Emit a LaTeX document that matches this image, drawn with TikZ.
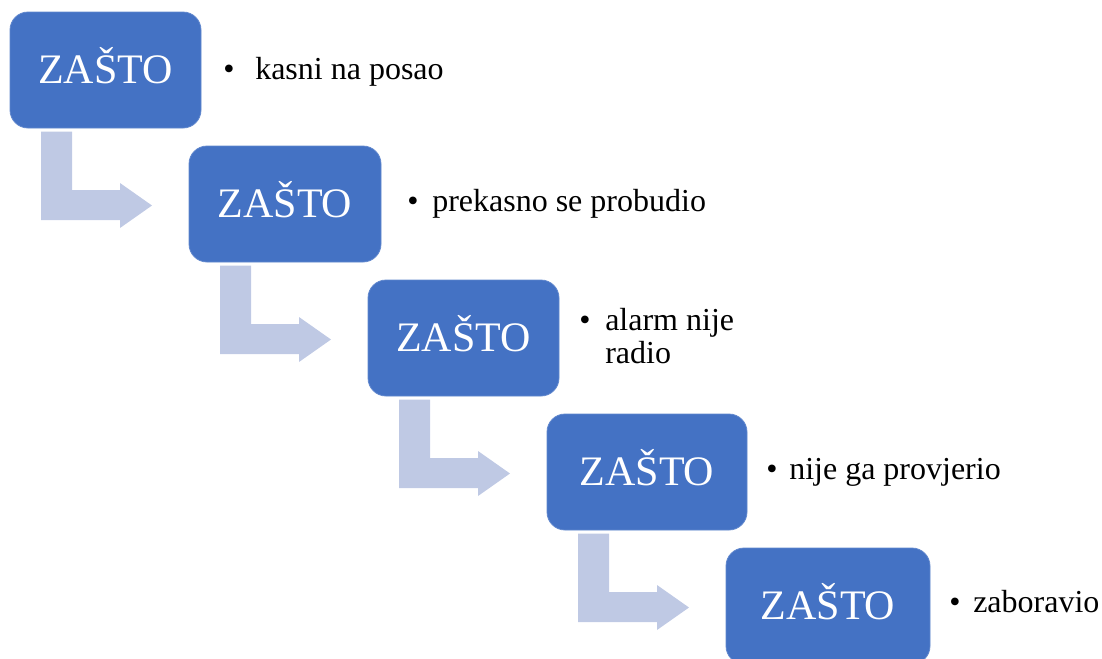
\documentclass[tikz,border=0pt]{standalone}
\usepackage{fontspec}
\setmainfont{Liberation Serif}
\usetikzlibrary{calc}
\definecolor{boxblue}{HTML}{4472C4}
\definecolor{arrowblue}{HTML}{BFC9E4}
\tikzset{
  whybox/.style={rectangle, rounded corners=13.5pt, fill=boxblue, draw=boxblue!85!white, line width=0.6pt,
    text=white, font=\fontsize{31.5}{36}\selectfont, minimum height=87pt, inner sep=0pt, outer sep=0pt,
    text height=20.85pt, text depth=0pt},
  itemtext/.style={anchor=base west, inner sep=0pt, font=\fontsize{24}{24.75}\selectfont},
  itembullet/.style={anchor=base, inner sep=0pt, font=\fontsize{24}{24.75}\selectfont},
  elbow/.style={fill=arrowblue, draw=none}
}
\newcommand{\elbowarrow}[1]{%
  \fill[elbow] ($(#1.south west)+(31,3.5)$) -- ($(#1.south west)+(62,3.5)$) -- ($(#1.south west)+(62,62)$)
    -- ($(#1.south west)+(110,62)$) -- ($(#1.south west)+(110,55)$) -- ($(#1.south west)+(142,77.5)$)
    -- ($(#1.south west)+(110,100)$) -- ($(#1.south west)+(110,92)$) -- ($(#1.south west)+(31,92)$) -- cycle;}
\begin{document}
\begin{tikzpicture}[x=0.75pt, y=-0.75pt]
\useasboundingbox (0,0) rectangle (1102,658);
% boxes
\node[whybox, minimum width=143.25pt] (b1) at (105.5,70) {ZAŠTO};
\node[whybox, minimum width=144pt] (b2) at (285,204) {ZAŠTO};
\node[whybox, minimum width=143.25pt] (b3) at (463.5,338) {ZAŠTO};
\node[whybox, minimum width=150pt] (b4) at (647,472) {ZAŠTO};
\node[whybox, minimum width=153pt] (b5) at (828,606) {ZAŠTO};
% elbow arrows
\elbowarrow{b1}
\elbowarrow{b2}
\elbowarrow{b3}
\elbowarrow{b4}
% bullets and texts
\node[itembullet] (d1) at (229,79) {•};
\node[itemtext] (t1) at (255,79) {kasni na posao};
\node[itembullet] (d2) at (413,211) {•};
\node[itemtext] (t2) at (432,211) {prekasno se probudio};
\node[itembullet] (d3) at (585,330) {•};
\node[itemtext] (t3) at (605,330) {\begin{tabular}[t]{@{}l@{}}alarm nije\\radio\end{tabular}};
\node[itembullet] (d4) at (772,479) {•};
\node[itemtext] (t4) at (789,479) {nije ga provjerio};
\node[itembullet] (d5) at (955,612) {•};
\node[itemtext] (t5) at (973,612) {zaboravio};
\end{tikzpicture}
\end{document}
